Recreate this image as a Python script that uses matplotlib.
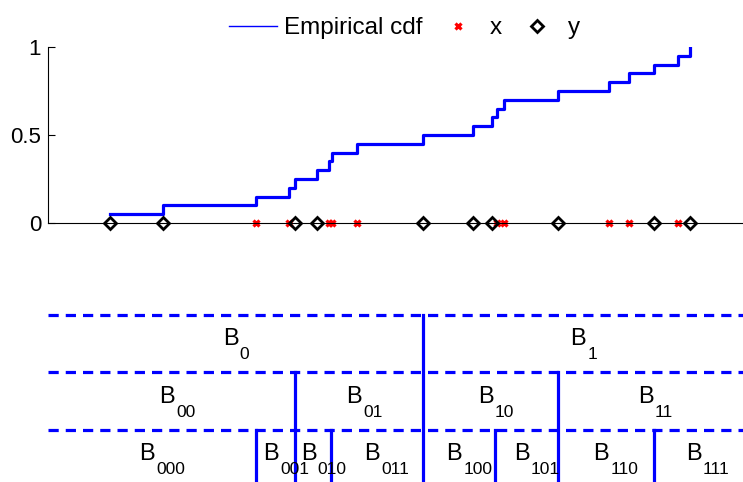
import matplotlib
matplotlib.use('Agg')
import numpy as np
import matplotlib.pyplot as plt
from matplotlib.lines import Line2D
from matplotlib.transforms import offset_copy

plt.rcParams['font.family'] = ['Liberation Sans', 'DejaVu Sans']

# two samples
x_pts = [0.2988, 0.3463, 0.4043, 0.4086, 0.4442, 0.6456, 0.6561, 0.8076, 0.8360, 0.9069]
y_pts = [0.0888, 0.1659, 0.3558, 0.3875, 0.5391, 0.6119, 0.6388, 0.7334, 0.8719, 0.9237]

# split points of the dyadic partition (key = parent cell code)
splits = {
    '': 0.5391,
    '0': 0.3558, '1': 0.7334,
    '00': 0.2988, '01': 0.4072, '10': 0.6432, '11': 0.8719,
}
depth = 3

fig = plt.figure(figsize=(7.43, 4.82), dpi=100)

# ---- top: empirical cdf
ax = fig.add_axes([48/743, 1 - 223/482, 695/743, 176/482])
allp = np.sort(np.concatenate([x_pts, y_pts]))
ecdf = np.arange(1, len(allp) + 1) / len(allp)
ax.step(allp, ecdf, where='post', color='#0000ff', lw=2.3)
ax.plot(x_pts, np.zeros(len(x_pts)), 'x', color='red', ms=5, mew=2.3, clip_on=False)
ax.plot(y_pts, np.zeros(len(y_pts)), 'D', color='black', mfc='none', ms=6.5, mew=2, clip_on=False)
ax.set_xlim(0, 1)
ax.set_ylim(0, 1)
ax.set_yticks([0, 0.5, 1])
ax.set_yticklabels(['0', '0.5', '1'])
ax.set_xticks([])
for s in ['top', 'right']:
    ax.spines[s].set_visible(False)
for s in ['left', 'bottom']:
    ax.spines[s].set_linewidth(0.8)
ax.tick_params(axis='y', direction='in', length=5, width=0.8, labelsize=16, pad=5)

handles = [
    Line2D([], [], color='#0000ff', lw=1),
    Line2D([], [], ls='none', marker='x', color='red', ms=5, mew=2.3),
    Line2D([], [], ls='none', marker='D', color='black', mfc='none', ms=6.5, mew=2),
]
fig.legend(handles, ['Empirical cdf', 'x', 'y'], loc='upper center',
           bbox_to_anchor=(0.545, 1.01), ncol=3, frameon=False, fontsize=17.5,
           handlelength=1.95, handletextpad=0.3, columnspacing=0.5)

# ---- bottom: partition tree
ax2 = fig.add_axes([48/743, 0, 695/743, 182/482])
ax2.set_xlim(0, 1)
ax2.set_ylim(0.096, 3.26)
ax2.axis('off')

for lev in range(depth):
    ax2.plot([0, 1], [3 - lev, 3 - lev], color='#0000ff', lw=2.3,
             ls=(0, (3.2, 2.2)), clip_on=False)

# "B" and its subscript as two texts (offsets in pixels)
b_tr = offset_copy(ax2.transData, fig=fig, x=-12.5, y=-1.5, units='dots')
sub_tr = offset_copy(ax2.transData, fig=fig, x=4.5, y=-15.5, units='dots')

def draw(code, a, b):
    d = len(code)
    if d > 0:
        xc, yc = (a + b) / 2, 3.5 - d
        ax2.text(xc, yc, 'B', transform=b_tr, ha='left', va='baseline', fontsize=17)
        ax2.text(xc, yc, code, transform=sub_tr, ha='left', va='baseline', fontsize=12.5)
    if d < depth and code in splits:
        s = splits[code]
        ax2.plot([s, s], [3 - d, 0], color='#0000ff', lw=2.3, clip_on=False)
        draw(code + '0', a, s)
        draw(code + '1', s, b)

draw('', 0, 1)

fig.savefig('out.png', dpi=100)
